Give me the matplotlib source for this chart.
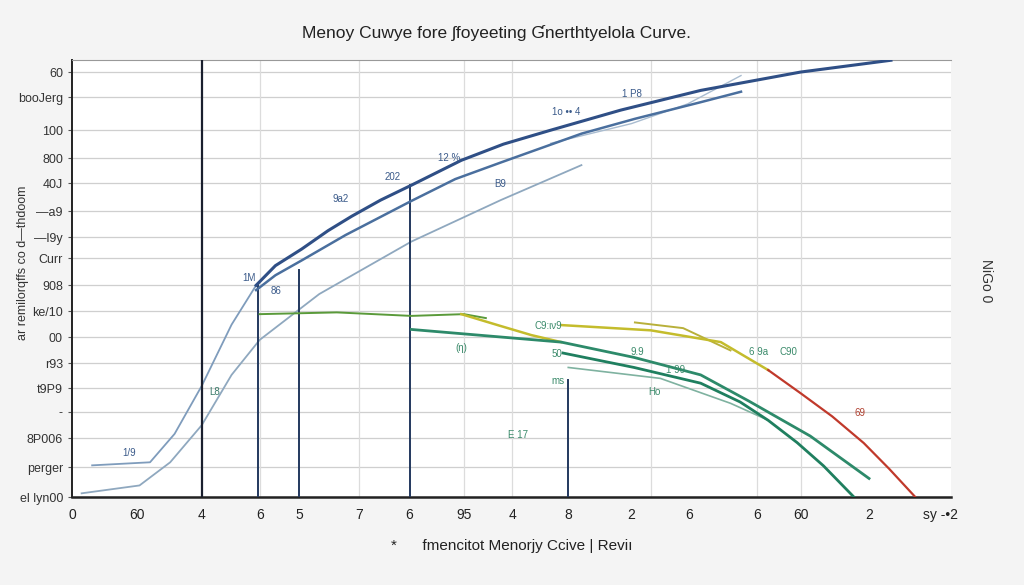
import matplotlib.pyplot as plt

plt.rcParams['font.family'] = ['Liberation Sans', 'DejaVu Sans']

# ==================== 数据 ====================
title = 'Menoy Cuwye fore \u0283foyeeting \u0193nerthtyelola Curve.'
xlabel = '*      fmencitot Menorjy Ccive | Revi\u0131'
ylabel = 'ar remilorqffs co d\u2014thdoom'
right_label = 'NiGo 0'

y_ticks = [97.3, 91.5, 84.0, 77.6, 71.9, 65.4, 59.5, 54.7, 48.5, 42.6,
           36.6, 30.7, 25.0, 19.5, 13.5, 6.9, 0.0]
y_labels = ['60', 'booJerg', '100', '800', '40J', '\u2014a9', '\u2014l9y', 'Curr', '908',
            'ke/10', '00', 'r93', 't9P9', '-', '8P006', 'perger', 'el lyn00']

x_ticks = [-0.2, 7.2, 14.6, 21.2, 25.7, 32.5, 38.3, 44.5, 50.0, 56.4,
           63.6, 70.2, 77.9, 82.9, 90.7, 98.9]
x_labels = ['0', '60', '4', '6', '5', '7', '6', '95', '4', '8',
            '2', '6', '6', '60', '2', 'sy -\u20222']

x_grid = [21.2, 32.5, 44.5, 50.0, 65.8, 77.9, 82.9]

# 竖线 (x, 顶端 y)
v_black = (14.6, 100)
v_lines = [(21.0, 48.5), (25.7, 52.0), (38.3, 71.4), (56.4, 26.8)]

# 曲线
blue_main_x = [20.8, 23.0, 26.0, 29.0, 31.7, 35.0, 38.5, 44.2, 49.0, 54.4, 62.4, 71.5, 82.9, 93.2]
blue_main_y = [48.5, 53.0, 56.8, 61.0, 64.3, 68.0, 71.4, 77.1, 80.8, 84.0, 88.6, 93.1, 97.3, 100.0]

blue_mid_x = [20.8, 23.0, 26.0, 31.0, 38.5, 43.5, 48.7, 57.9, 64.0, 71.5, 76.1]
blue_mid_y = [47.4, 50.8, 54.2, 60.0, 67.8, 72.8, 76.6, 83.2, 86.6, 90.4, 92.8]

light_a_x = [2.1, 8.7, 11.5, 14.6, 18.0, 20.8]
light_a_y = [7.3, 8.0, 14.5, 25.5, 39.5, 48.5]

light_b_x = [0.9, 7.5, 11.0, 14.6, 18.0, 21.2, 28.0, 38.5, 48.7, 57.9]
light_b_y = [0.9, 2.7, 8.0, 16.5, 28.0, 36.0, 46.5, 58.5, 68.0, 76.0]

faint_x = [54.4, 63.6, 70.0, 76.1]
faint_y = [81.0, 85.5, 90.0, 96.5]

green_x = [21.2, 30.0, 38.5, 44.5, 47.0]
green_y = [41.9, 42.3, 41.5, 41.9, 41.0]

teal1_x = [38.5, 55.6, 63.9, 71.5, 77.0, 84.0, 90.7]
teal1_y = [38.4, 35.5, 32.0, 28.0, 22.0, 14.0, 4.3]

teal2_x = [55.8, 63.9, 71.5, 76.0, 79.2, 82.5, 85.5, 89.0]
teal2_y = [33.0, 29.7, 26.1, 21.8, 17.6, 12.5, 7.2, 0.0]

teal3_x = [56.4, 66.9, 74.9, 79.0]
teal3_y = [29.7, 27.2, 21.5, 17.8]

yellow1_x = [44.2, 48.5, 52.2, 55.6]
yellow1_y = [41.9, 39.3, 37.1, 35.5]

yellow2_x = [55.6, 65.8, 73.8, 79.2]
yellow2_y = [39.4, 38.2, 35.5, 29.1]

yellow3_x = [64.0, 69.5, 74.9]
yellow3_y = [40.0, 38.7, 33.6]

red_x = [79.2, 82.9, 86.5, 90.1, 93.0, 96.0]
red_y = [29.1, 23.8, 18.5, 12.4, 6.5, 0.0]

notes = [
    (62.5, 91.5, '1 P8', '#3a5a8a'), (54.5, 87.5, '1o \u2022\u2022 4', '#3a5a8a'),
    (41.5, 77.0, '12 %', '#3a5a8a'), (35.5, 72.5, '202', '#3a5a8a'),
    (29.5, 67.5, '9a2', '#3a5a8a'), (48.0, 71.0, 'B9', '#3a5a8a'),
    (19.2, 49.5, '1M', '#3a5a8a'), (22.5, 46.5, '86', '#3a5a8a'),
    (5.5, 9.5, '1/9', '#3a5a8a'), (15.5, 23.5, 'L8', '#3a7a6a'),
    (43.5, 33.5, '(\u03b7)', '#3a8a6a'), (52.5, 38.5, 'C9:\u03b9\u03bd9', '#3a8a6a'),
    (54.5, 32.0, '50', '#3a8a6a'), (54.5, 26.0, 'ms', '#3a8a6a'),
    (49.5, 13.5, 'E 17', '#3a8a6a'), (63.5, 32.5, '9.9', '#3a8a6a'),
    (67.5, 28.5, '1 99', '#3a8a6a'), (65.5, 23.5, 'Ho', '#3a8a6a'),
    (77.0, 32.5, '6 9a', '#3a8a6a'), (80.5, 32.5, 'C90', '#3a8a6a'),
    (89.0, 18.5, '69', '#b04030'),
]

# ==================== 绘图 ====================
fig = plt.figure(figsize=(10.24, 5.85), dpi=100, facecolor='#f4f4f4')
ax = fig.add_axes([0.0703, 0.150, 0.858, 0.747])
ax.set_facecolor('white')

ax.set_xlim(-0.2, 100)
ax.set_ylim(0, 100)

for y in y_ticks:
    ax.axhline(y, color='#cfcfcf', lw=0.9, zorder=1)
for x in x_grid:
    ax.axvline(x, color='#dcdcdc', lw=0.9, zorder=1)

ax.plot([v_black[0]] * 2, [0, v_black[1]], color='#1a1f2e', lw=1.6, zorder=3)
for x, top in v_lines:
    ax.plot([x, x], [0, top], color='#22385e', lw=1.4, zorder=3)

ax.plot(light_b_x, light_b_y, color='#8fa8bf', lw=1.3, zorder=2)
ax.plot(light_a_x, light_a_y, color='#7f9cbc', lw=1.3, zorder=2)
ax.plot(faint_x, faint_y, color='#a9bcd0', lw=1.0, zorder=2)
ax.plot(blue_mid_x, blue_mid_y, color='#4a6f9e', lw=1.8, zorder=4)
ax.plot(blue_main_x, blue_main_y, color='#2f4f86', lw=2.2, zorder=4)

ax.plot(green_x, green_y, color='#5a9a3a', lw=1.4, zorder=4)
ax.plot(teal3_x, teal3_y, color='#7fb2a0', lw=1.2, zorder=4)
ax.plot(yellow3_x, yellow3_y, color='#b8b03a', lw=1.4, zorder=4)
ax.plot(yellow1_x, yellow1_y, color='#c4bc2c', lw=1.8, zorder=5)
ax.plot(yellow2_x, yellow2_y, color='#c4bc2c', lw=1.8, zorder=5)
ax.plot(teal1_x, teal1_y, color='#2d8a6a', lw=2.0, zorder=5)
ax.plot(teal2_x, teal2_y, color='#1f7f5f', lw=2.0, zorder=5)
ax.plot(red_x, red_y, color='#c0392b', lw=1.6, zorder=5)

for x, y, s, c in notes:
    ax.text(x, y, s, fontsize=7, color=c, zorder=6)

ax.set_yticks(y_ticks)
ax.set_yticklabels(y_labels, fontsize=9, color='#333333')
ax.set_xticks(x_ticks)
ax.set_xticklabels(x_labels, fontsize=10, color='#222222')
ax.tick_params(axis='y', length=3, color='#555555')
ax.tick_params(axis='x', length=0, pad=8)

ax.spines['left'].set_color('#222222')
ax.spines['left'].set_linewidth(1.4)
ax.spines['bottom'].set_color('#222222')
ax.spines['bottom'].set_linewidth(1.8)
ax.spines['top'].set_color('#999999')
ax.spines['top'].set_linewidth(0.8)
ax.spines['right'].set_visible(False)

fig.text(0.022, 0.55, ylabel, rotation=90, ha='center', va='center',
         fontsize=9, color='#333333')
fig.text(0.485, 0.935, title, ha='center', fontsize=12.5, color='#222222')
fig.text(0.50, 0.06, xlabel, ha='center', fontsize=11, color='#222222')
fig.text(0.963, 0.52, right_label, rotation=270, ha='center', va='center',
         fontsize=10, color='#333333')

plt.savefig('out.png', dpi=100, facecolor=fig.get_facecolor())
